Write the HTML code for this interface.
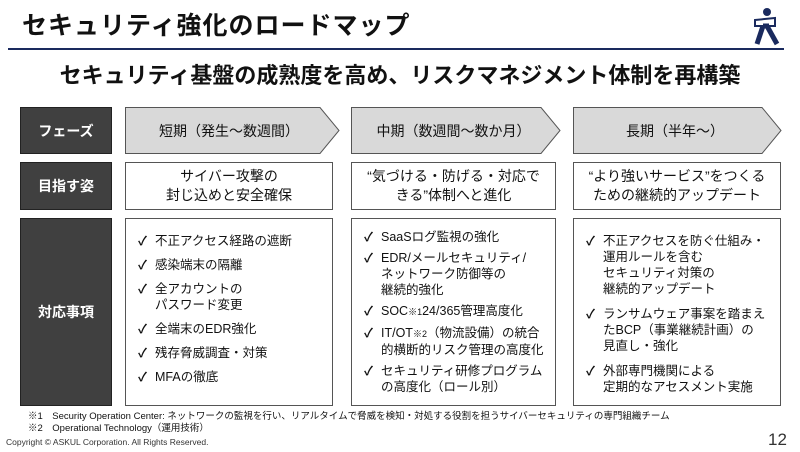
<!DOCTYPE html>
<html><head><meta charset="utf-8"><style>
body{margin:0;width:800px;height:452px;background:#fff;font-family:"Liberation Sans","Noto Sans CJK JP",sans-serif;position:relative;overflow:hidden;color:#111}
.a{position:absolute}
.lab{position:absolute;left:20px;width:92px;background:#404040;border:1px solid #222;color:#fff;font-weight:bold;font-size:14px;display:flex;align-items:center;justify-content:center;box-sizing:border-box}
.box{position:absolute;border:1px solid #555;background:#fff;box-sizing:border-box;font-size:14px;display:flex;align-items:center;justify-content:center;text-align:center;line-height:19px}
.list{position:absolute;border:1px solid #555;box-sizing:border-box;font-size:12.5px;line-height:16px;padding:8px 6px 0 12px}
.list div{position:relative;padding-left:17px;margin-bottom:8px}
.list div:before{content:"✓";position:absolute;left:0;font-weight:bold}
.c2 div{margin-bottom:5px}
.c3 div{margin-bottom:9px}
</style></head><body>
<div class="a" style="left:22px;top:6px;font-size:25px;font-weight:bold;letter-spacing:1px">セキュリティ強化のロードマップ</div>
<svg class="a" style="left:745px;top:6px" width="40" height="40" viewBox="0 0 40 40"><circle cx="22" cy="6" r="4" fill="#1a2a5e"/><path d="M10 14 L30 12 L30 20 L10 20 Z" fill="#fff" stroke="#1a2a5e" stroke-width="2"/><path d="M18 20 L12 38 M22 20 L32 38 M18 20 L24 20" stroke="#1a2a5e" stroke-width="5" fill="none"/></svg>
<div class="a" style="left:8px;top:48px;width:776px;height:2px;background:#1a2a5e"></div>
<div class="a" style="left:0;top:58px;width:800px;text-align:center;font-size:22px;font-weight:bold">セキュリティ基盤の成熟度を高め、リスクマネジメント体制を再構築</div>
<div class="lab" style="top:107px;height:47px">フェーズ</div>
<div class="lab" style="top:162px;height:48px">目指す姿</div>
<div class="lab" style="top:218px;height:188px">対応事項</div>
<svg class="a" style="left:0;top:0" width="800" height="160">
<path d="M125.5 107.5 H320 L339 130.5 L320 153.5 H125.5 Z" fill="#d9d9d9" stroke="#555"/>
<path d="M351.5 107.5 H541 L560 130.5 L541 153.5 H351.5 Z" fill="#d9d9d9" stroke="#555"/>
<path d="M573.5 107.5 H762 L781 130.5 L762 153.5 H573.5 Z" fill="#d9d9d9" stroke="#555"/>
</svg>
<div class="a" style="left:125px;top:121px;width:208px;text-align:center;font-size:14px">短期（発生～数週間）</div>
<div class="a" style="left:351px;top:121px;width:205px;text-align:center;font-size:14px">中期（数週間～数か月）</div>
<div class="a" style="left:573px;top:121px;width:204px;text-align:center;font-size:14px">長期（半年～）</div>
<div class="box" style="left:125px;top:162px;width:208px;height:48px">サイバー攻撃の<br>封じ込めと安全確保</div>
<div class="box" style="left:351px;top:162px;width:205px;height:48px">“気づける・防げる・対応で<br>きる”体制へと進化</div>
<div class="box" style="left:573px;top:162px;width:208px;height:48px">“より強いサービス”をつくる<br>ための継続的アップデート</div>
<div class="list" style="left:125px;top:218px;width:208px;height:188px;padding-top:14px">
<div>不正アクセス経路の遮断</div><div>感染端末の隔離</div><div>全アカウントの<br>パスワード変更</div><div>全端末のEDR強化</div><div>残存脅威調査・対策</div><div>MFAの徹底</div></div>
<div class="list c2" style="left:351px;top:218px;width:205px;height:188px;padding-top:10px">
<div>SaaSログ監視の強化</div><div>EDR/メールセキュリティ/<br>ネットワーク防御等の<br>継続的強化</div><div>SOC<span style="font-size:9px">※1</span>24/365管理高度化</div><div>IT/OT<span style="font-size:9px">※2</span>（物流設備）の統合<br>的横断的リスク管理の高度化</div><div>セキュリティ研修プログラム<br>の高度化（ロール別）</div></div>
<div class="list c3" style="left:573px;top:218px;width:208px;height:188px;padding-top:14px">
<div>不正アクセスを防ぐ仕組み・<br>運用ルールを含む<br>セキュリティ対策の<br>継続的アップデート</div><div>ランサムウェア事案を踏まえ<br>たBCP（事業継続計画）の<br>見直し・強化</div><div>外部専門機関による<br>定期的なアセスメント実施</div></div>
<div class="a" style="left:28px;top:411px;font-size:9.5px;line-height:12px">※1　Security Operation Center: ネットワークの監視を行い、リアルタイムで脅威を検知・対処する役割を担うサイバーセキュリティの専門組織チーム<br>※2　Operational Technology（運用技術）</div>
<div class="a" style="left:6px;top:437px;font-size:8.5px;color:#333">Copyright © ASKUL Corporation. All Rights Reserved.</div>
<div class="a" style="left:768px;top:430px;font-size:17px;color:#333">12</div>
</body></html>
